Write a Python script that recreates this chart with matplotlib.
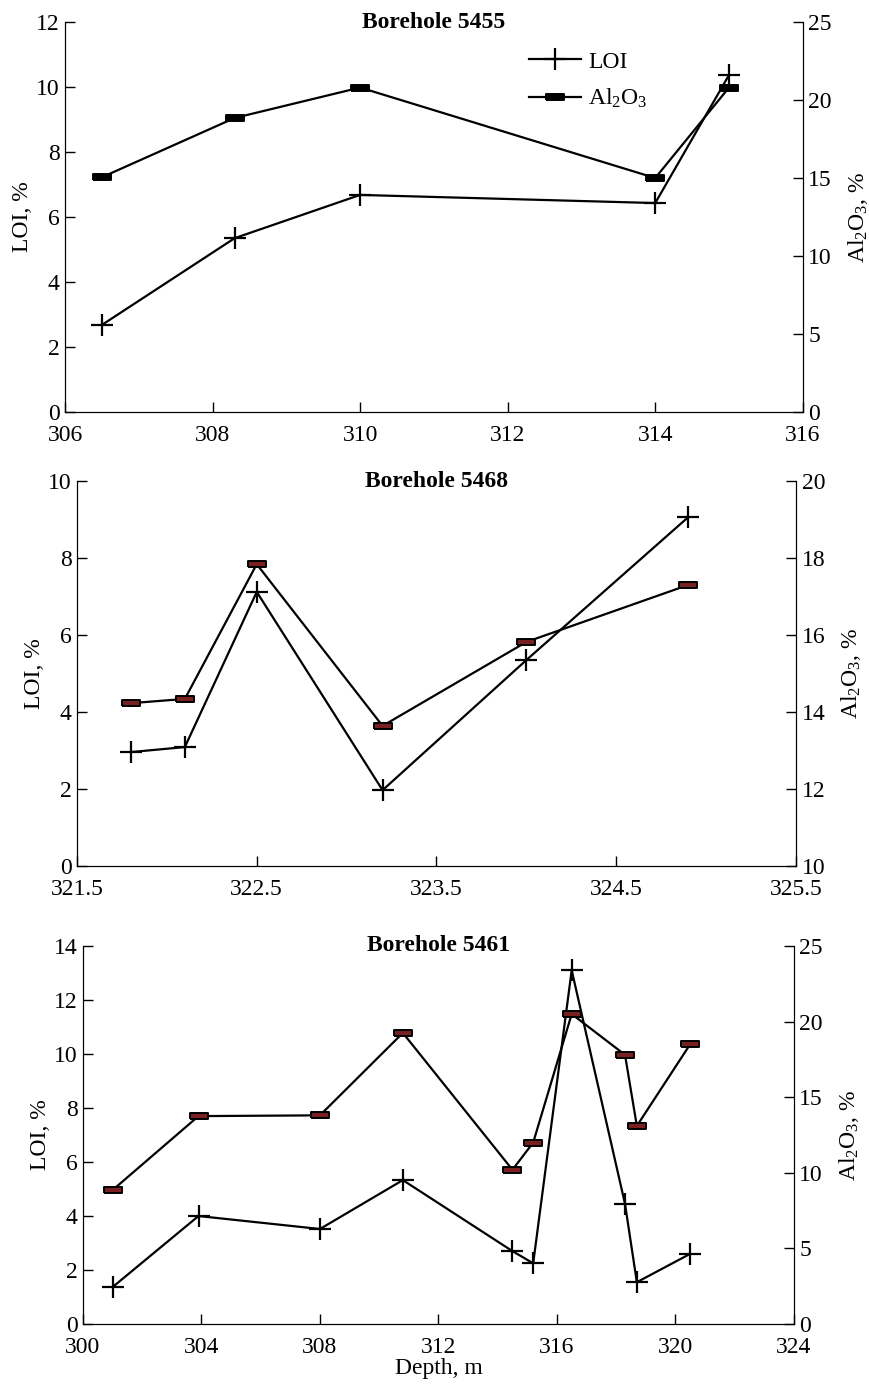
import numpy as np
import matplotlib
matplotlib.use("Agg")
import matplotlib.pyplot as plt

plt.rcParams['font.family'] = ['Liberation Serif', 'DejaVu Serif']
plt.rcParams['mathtext.fontset'] = 'custom'
plt.rcParams['mathtext.rm'] = 'Liberation Serif'
plt.rcParams['mathtext.it'] = 'Liberation Serif:italic'
plt.rcParams['font.size'] = 17

# Borehole 5455
depth_5455 = [306.5, 308.3, 310.0, 314.0, 315.0]
loi_5455 = [2.68, 5.35, 6.68, 6.43, 10.37]
al_5455 = [15.05, 18.85, 20.8, 15.0, 20.8]

# Borehole 5468
depth_5468 = [321.8, 322.1, 322.5, 323.2, 324.0, 324.9]
loi_5468 = [2.96, 3.09, 7.12, 1.97, 5.35, 9.06]
al_5468 = [14.23, 14.34, 17.84, 13.64, 15.82, 17.3]

# Borehole 5461
depth_5461 = [301.0, 303.9, 308.0, 310.8, 314.5, 315.2, 316.5, 318.3, 318.7, 320.5]
loi_5461 = [1.37, 4.0, 3.52, 5.33, 2.7, 2.25, 13.1, 4.45, 1.55, 2.6]
al_5461 = [8.86, 13.75, 13.8, 19.25, 10.2, 12.0, 20.5, 17.8, 13.1, 18.5]

titles = ['Borehole 5455', 'Borehole 5468', 'Borehole 5461']

# flat bar marker for Al2O3
bar = [(-1, -0.3), (1, -0.3), (1, 0.3), (-1, 0.3), (-1, -0.3)]

fig = plt.figure(figsize=(8.69, 13.85), dpi=100)

panels = [
    # rect, data, xlim, xticks, loi lim, loi ticks, al lim, al ticks, fill
    ([0.0748, 0.7025, 0.849, 0.2816], depth_5455, loi_5455, al_5455,
     (306, 316), np.arange(306, 317, 2), (0, 12), np.arange(0, 13, 2),
     (0, 25), np.arange(0, 26, 5), 'black'),
    ([0.0886, 0.3747, 0.8274, 0.278], depth_5468, loi_5468, al_5468,
     (321.5, 325.5), np.arange(321.5, 325.6, 1), (0, 10), np.arange(0, 11, 2),
     (10, 20), np.arange(10, 21, 2), '#7a2020'),
    ([0.0955, 0.044, 0.818, 0.273], depth_5461, loi_5461, al_5461,
     (300, 324), np.arange(300, 325, 4), (0, 14), np.arange(0, 15, 2),
     (0, 25), np.arange(0, 26, 5), '#7a2020'),
]

for i, (rect, x, loi, al, xl, xt, yl, yt, al_l, al_t, fc) in enumerate(panels):
    ax = fig.add_axes(rect)
    ax2 = ax.twinx()

    l1, = ax.plot(x, loi, color='black', lw=1.6, marker='+', ms=16, mew=1.6,
                  label='LOI')
    l2, = ax2.plot(x, al, color='black', lw=1.6, marker=bar, ms=13, mew=1.4,
                   mfc=fc, mec='black', label='Al$_2$O$_3$')

    ax.set_xlim(xl)
    ax.set_xticks(xt)
    if i == 1:
        ax.set_xticklabels(['%.1f' % v for v in xt])
    ax.set_ylim(yl)
    ax.set_yticks(yt)
    ax2.set_ylim(al_l)
    ax2.set_yticks(al_t)

    for a in (ax, ax2):
        a.spines['top'].set_visible(False)
        a.tick_params(direction='in', length=7, width=1, labelsize=17)
    ax.tick_params(axis='x', pad=9)
    ax.tick_params(axis='y', pad=4)
    ax2.tick_params(axis='y', pad=4)

    ax.set_ylabel('LOI, %', fontsize=17, labelpad=2)
    ax2.set_ylabel('Al$_2$O$_3$, %', fontsize=17, rotation=90, labelpad=10)

    ax.text(0.5, 1.0, titles[i], transform=ax.transAxes, ha='center',
            va='center', fontsize=17, fontweight='bold')

    if i == 0:
        ax.legend([l1, l2], ['LOI', 'Al$_2$O$_3$'], loc='upper left',
                  bbox_to_anchor=(0.6, 0.98), frameon=False, fontsize=17,
                  handlelength=2.2, handletextpad=0.3, labelspacing=0.6)
    if i == 2:
        ax.set_xlabel('Depth, m', fontsize=17, labelpad=0)

fig.savefig('out.png', dpi=100)
